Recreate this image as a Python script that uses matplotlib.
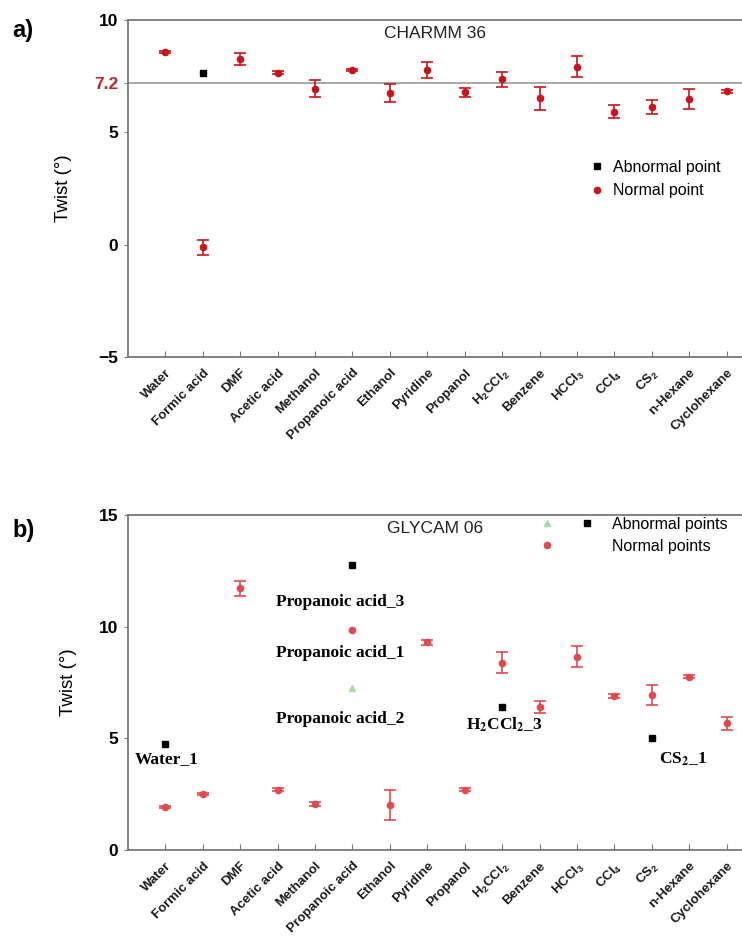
import matplotlib
matplotlib.use("Agg")
import matplotlib.pyplot as plt
from matplotlib.legend_handler import HandlerTuple
from matplotlib.lines import Line2D

solvents = ["Water", "Formic acid", "DMF", "Acetic acid", "Methanol", "Propanoic acid",
            "Ethanol", "Pyridine", "Propanol", r"H$_2$CCl$_2$", "Benzene", r"HCCl$_3$",
            r"CCl$_4$", r"CS$_2$", "n-Hexane", "Cyclohexane"]

# Panel a (CHARMM 36)
a_vals = [8.59, -0.12, 8.28, 7.66, 6.95, 7.77, 6.75, 7.77, 6.78, 7.37, 6.51, 7.93,
          5.92, 6.12, 6.48, 6.82]
a_err = [0.05, 0.34, 0.27, 0.07, 0.37, 0.05, 0.41, 0.37, 0.2, 0.33, 0.52, 0.46,
         0.3, 0.31, 0.44, 0.07]
a_abn_idx = [1]
a_abn_vals = [7.63]
a_ref = 7.2

# Panel b (GLYCAM 06)
b_vals = [1.94, 2.5, 11.72, 2.69, 2.06, 9.84, 2.0, 9.3, 2.69, 8.39, 6.4, 8.66,
          6.9, 6.94, 7.75, 5.67]
b_err = [0.05, 0.05, 0.34, 0.07, 0.08, None, 0.67, 0.1, 0.07, 0.46, 0.27, 0.48,
         0.1, 0.46, 0.07, 0.28]
b_abn_idx = [0, 5, 9, 13]
b_abn_vals = [4.75, 12.75, 6.42, 5.0]
b_green_idx = [5]
b_green_vals = [7.25]
b_labels = ["Water_1", "Propanoic acid_3", "Propanoic acid_1", "Propanoic acid_2",
            r"H$_\mathbf{2}$CCl$_\mathbf{2}$_3", r"CS$_\mathbf{2}$_1"]
b_label_x = [0.19, 3.96, 3.96, 3.96, 9.04, 14.2]
b_label_y = [4.06, 11.1, 8.84, 5.88, 5.6, 4.06]

plt.rcParams['font.family'] = ['Liberation Sans', 'DejaVu Sans']
plt.rcParams['mathtext.fontset'] = 'custom'
plt.rcParams['mathtext.rm'] = 'Liberation Sans:bold'
plt.rcParams['mathtext.it'] = 'Liberation Sans:bold'
plt.rcParams['mathtext.bf'] = 'Liberation Sans:bold'

fig = plt.figure(figsize=(7.42, 9.39), dpi=100)
W, H = 742, 939


def make_ax(top, bottom):
    return fig.add_axes([128 / W, 1 - bottom / H, (764 - 128) / W, (bottom - top) / H])


xs = list(range(1, len(solvents) + 1))
spine_c = "#777777"


def style(ax, ylim, yticks):
    ax.set_xlim(0, 17)
    ax.set_ylim(*ylim)
    ax.set_xticks(xs)
    ax.set_xticklabels(solvents, rotation=45, ha='right', rotation_mode='anchor',
                       fontsize=9.5, fontweight='bold', color='#1a1a1a')
    ax.set_yticks(yticks)
    ax.set_yticklabels([str(t) for t in yticks], fontsize=12.5, fontweight='bold')
    ax.tick_params(axis='x', direction='in', length=4, color=spine_c, pad=7)
    ax.tick_params(axis='y', direction='out', length=3, color=spine_c, pad=4)
    for s in ['top', 'left', 'bottom', 'right']:
        ax.spines[s].set_color(spine_c)
        ax.spines[s].set_linewidth(1.3)
    ax.set_ylabel("Twist (°)", fontsize=13.5, labelpad=16)


# ---- Panel a ----
ax1 = make_ax(20, 357)
ax1.axhline(a_ref, color='#a0a0a0', lw=1.3, zorder=1)
ax1.errorbar(xs, a_vals, yerr=a_err, fmt='o', color='#c8151b', ms=4.5, capsize=4,
             elinewidth=1.2, capthick=1.2, zorder=3)
ax1.plot([xs[i] for i in a_abn_idx], a_abn_vals, 's', color='black', ms=3.8, zorder=4)
style(ax1, (-5, 10), [-5, 0, 5, 10])
ax1.set_yticks([-5, 0, 5, 7.2, 10])
ax1.set_yticklabels(["−5", "0", "5", "7.2", "10"], fontsize=12.5, fontweight='bold')
ax1.get_yticklabels()[3].set_color('#b8282c')
ax1.text(0.483, 0.96, "CHARMM 36", transform=ax1.transAxes, ha='center', va='center',
         fontsize=12.5, color='#222222')
h_abn = Line2D([], [], marker='s', color='black', ls='none', ms=3.8)
h_nor = Line2D([], [], marker='o', color='#c8151b', ls='none', ms=4.5)
ax1.legend([h_abn, h_nor], ["Abnormal point", "Normal point"], loc='center left',
           bbox_to_anchor=(0.7, 0.528), frameon=False, fontsize=11.5, handletextpad=0.4,
           labelspacing=0.55, handlelength=1.2)
fig.text(12 / W, 1 - 30 / H, "a)", fontsize=17, fontweight='bold', va='center')

# ---- Panel b ----
ax2 = make_ax(515, 850)
ex = [x for x, e in zip(xs, b_err) if e is not None]
ev = [v for v, e in zip(b_vals, b_err) if e is not None]
ee = [e for e in b_err if e is not None]
ax2.errorbar(ex, ev, yerr=ee, fmt='o', color='#e04a50', ms=4.5, capsize=4,
             elinewidth=1.2, capthick=1.2, zorder=3)
nx = [x for x, e in zip(xs, b_err) if e is None]
nv = [v for v, e in zip(b_vals, b_err) if e is None]
ax2.plot(nx, nv, 'o', color='#e04a50', ms=4.5, zorder=3)
ax2.plot([xs[i] for i in b_abn_idx], b_abn_vals, 's', color='black', ms=3.8, zorder=4)
ax2.plot([xs[i] for i in b_green_idx], b_green_vals, '^', color='#a8dca8', ms=4, zorder=4)
style(ax2, (0, 15), [0, 5, 10, 15])
ax2.text(0.483, 0.96, "GLYCAM 06", transform=ax2.transAxes, ha='center', va='center',
         fontsize=12.5, color='#222222')
for lab, lx, ly in zip(b_labels, b_label_x, b_label_y):
    ax2.text(lx, ly, lab, ha='left', va='center', fontsize=12.5, fontweight='bold',
             family=['Liberation Serif'], math_fontfamily='stix', zorder=5)
h_g = Line2D([], [], marker='^', color='#a8dca8', ls='none', ms=4)
h_b = Line2D([], [], marker='s', color='black', ls='none', ms=3.8)
h_r = Line2D([], [], marker='o', color='#e04a50', ls='none', ms=4.5)
h_none = Line2D([], [], marker='none', ls='none')
ax2.legend([(h_g, h_b), (h_r, h_none)], ["Abnormal points", "Normal points"],
           loc='upper left', bbox_to_anchor=(0.625, 1.038), frameon=False, fontsize=11.5,
           handletextpad=1.1, labelspacing=0.45, handlelength=3.4,
           handler_map={tuple: HandlerTuple(ndivide=None, pad=1.6)})
fig.text(12 / W, 1 - 530 / H, "b)", fontsize=17, fontweight='bold', va='center')

fig.savefig("out.png", dpi=100)
